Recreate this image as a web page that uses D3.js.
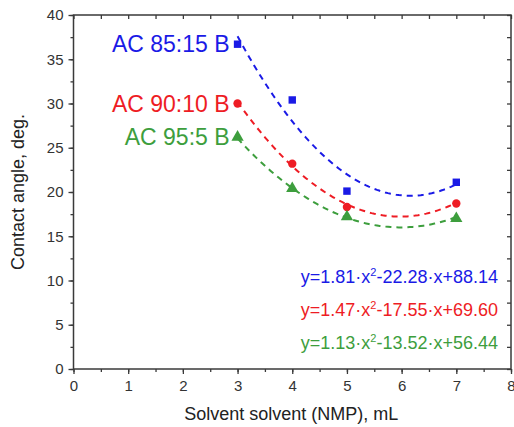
<!DOCTYPE html>
<html>
<head>
<meta charset="utf-8">
<script src="https://cdn.jsdelivr.net/npm/d3@7"></script>
<style>
body { margin: 0; background: #fff; }
text { font-family: "Liberation Sans", Arial, sans-serif; }
</style>
</head>
<body>
<svg id="chart" width="514" height="427"></svg>
<script>
'use strict'

var xValues = [3, 4, 5, 7];
var blueValues = [36.7, 30.4, 20.1, 21.1];
var redValues = [30.0, 23.2, 18.3, 18.7];
var greenValues = [26.2, 20.4, 17.2, 17.0];
var seriesNames = ['AC 85:15 B', 'AC 90:10 B', 'AC 95:5 B'];
// fit coefficients a, b, c of y = a*x^2 + b*x + c
var blueFit = [1.81, -22.28, 88.14];
var redFit = [1.47, -17.55, 69.60];
var greenFit = [1.13, -13.52, 56.44];
var xTicks = [0, 1, 2, 3, 4, 5, 6, 7, 8];
var yTicks = [0, 5, 10, 15, 20, 25, 30, 35, 40];

var colors = ['#1a1ae6', '#ee1c24', '#3d9e3d'];
var shapes = [d3.symbolSquare, d3.symbolCircle, d3.symbolTriangle];
var series = [
	{name: seriesNames[0], values: blueValues, fit: blueFit},
	{name: seriesNames[1], values: redValues, fit: redFit},
	{name: seriesNames[2], values: greenValues, fit: greenFit}
];

var plotLeft = 73.5, plotRight = 511, plotTop = 15, plotBottom = 369;
var x = d3.scaleLinear().domain([0, 8]).range([plotLeft, plotRight]);
var y = d3.scaleLinear().domain([0, 40]).range([plotBottom, plotTop]);

var svg = d3.select('#chart');
var axisColor = '#3a3a3a';

function styleAxis(g, noText){
	g.select('.domain').remove();
	g.selectAll('.tick line').attr('stroke', axisColor).attr('stroke-width', 1.3);
	g.selectAll('.tick text').attr('fill', '#333').style('font-size', '15px');
	if(noText) g.selectAll('.tick text').remove();
}

var minorX = d3.range(0, 8.01, 0.5);
var minorY = d3.range(0, 40.01, 2.5);

// bottom minor + major
svg.append('g').attr('transform', 'translate(0,' + plotBottom + ')')
	.call(d3.axisBottom(x).tickValues(minorX).tickSize(3).tickFormat(''))
	.call(function(g){ styleAxis(g, true); });
svg.append('g').attr('transform', 'translate(0,' + plotBottom + ')')
	.call(d3.axisBottom(x).tickValues(xTicks).tickSize(5).tickPadding(6).tickFormat(d3.format('d')))
	.call(function(g){ styleAxis(g); });
// left
svg.append('g').attr('transform', 'translate(' + plotLeft + ',0)')
	.call(d3.axisLeft(y).tickValues(minorY).tickSize(3).tickFormat(''))
	.call(function(g){ styleAxis(g, true); });
svg.append('g').attr('transform', 'translate(' + plotLeft + ',0)')
	.call(d3.axisLeft(y).tickValues(yTicks).tickSize(5).tickPadding(5).tickFormat(d3.format('d')))
	.call(function(g){ styleAxis(g); });
// top and right mirrored, inward
svg.append('g').attr('transform', 'translate(0,' + plotTop + ')')
	.call(d3.axisTop(x).tickValues(minorX).tickSize(-4).tickFormat(''))
	.call(function(g){ styleAxis(g, true); });
svg.append('g').attr('transform', 'translate(' + plotRight + ',0)')
	.call(d3.axisRight(y).tickValues(minorY).tickSize(-4).tickFormat(''))
	.call(function(g){ styleAxis(g, true); });

svg.append('rect')
	.attr('x', plotLeft).attr('y', plotTop)
	.attr('width', plotRight - plotLeft).attr('height', plotBottom - plotTop)
	.attr('fill', 'none').attr('stroke', axisColor).attr('stroke-width', 1.5);

// fit curves
var line = d3.line().x(function(d){ return x(d[0]); }).y(function(d){ return y(d[1]); });
var fitX = d3.range(3, 7.001, 0.05);
for(var c = 0; c < series.length; c++){
	var f = series[c].fit;
	var pts = fitX.map(function(v){ return [v, f[0]*v*v + f[1]*v + f[2]]; });
	svg.append('path')
		.attr('d', line(pts))
		.attr('fill', 'none')
		.attr('stroke', colors[c])
		.attr('stroke-width', 2)
		.attr('stroke-dasharray', '6,5');
}

// markers
var sizes = [55, 55, 65];
for(var c = 0; c < series.length; c++){
	var s = series[c];
	svg.selectAll('.m' + c).data(s.values).enter().append('path')
		.attr('transform', function(d, i){ return 'translate(' + x(xValues[i]) + ',' + y(d) + ')'; })
		.attr('d', d3.symbol().type(shapes[c]).size(sizes[c]))
		.attr('fill', colors[c]);
	svg.append('text')
		.attr('x', x(xValues[0]) - 8)
		.attr('y', y(s.values[0]))
		.attr('dy', '0.36em')
		.attr('text-anchor', 'end')
		.attr('fill', colors[c])
		.style('font-size', '23px')
		.text(s.name);
}

// equations
function fmt(v){ return Math.abs(v).toFixed(2); }
var eqBase = [283, 316, 349];
for(var c = 0; c < series.length; c++){
	var f = series[c].fit;
	var t = svg.append('text')
		.attr('x', 498).attr('y', eqBase[c])
		.attr('text-anchor', 'end')
		.attr('fill', colors[c])
		.style('font-size', '18px');
	t.append('tspan').text('y=' + fmt(f[0]) + '\u00b7x');
	t.append('tspan').attr('dy', -7).style('font-size', '11px').text('2');
	t.append('tspan').attr('dy', 7).text((f[1] < 0 ? '-' : '+') + fmt(f[1]) + '\u00b7x' + (f[2] < 0 ? '-' : '+') + fmt(f[2]));
}

// axis titles
svg.append('text')
	.attr('x', (plotLeft + plotRight) / 2 - 1)
	.attr('y', 420)
	.attr('text-anchor', 'middle')
	.attr('fill', '#222')
	.style('font-size', '18px')
	.text('Solvent solvent (NMP), mL');
svg.append('text')
	.attr('transform', 'translate(24,' + ((plotTop + plotBottom) / 2) + ') rotate(-90)')
	.attr('text-anchor', 'middle')
	.attr('fill', '#222')
	.style('font-size', '18px')
	.text('Contact angle, deg.');
</script>
</body>
</html>
